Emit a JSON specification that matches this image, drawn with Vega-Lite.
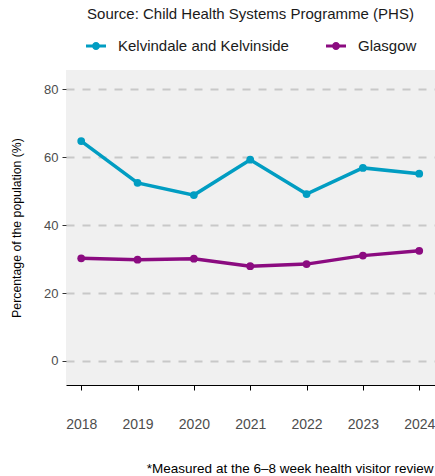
{
  "$schema": "https://vega.github.io/schema/vega-lite/v6.json",
  "width": 369,
  "height": 315,
  "autosize": {"type": "none"},
  "padding": {"left": 66, "top": 70, "right": 0, "bottom": 91},
  "background": "white",
  "config": {
    "font": "Liberation Sans",
    "view": {"fill": "#f0f0f0", "stroke": null}
  },
  "title": {
    "text": "Source: Child Health Systems Programme (PHS)",
    "anchor": "middle",
    "fontSize": 15,
    "fontWeight": "normal",
    "color": "#1a1a1a",
    "offset": 14
  },
  "data": {
    "values": [
      {"year": 2018, "area": "Kelvindale and Kelvinside", "pct": 64.7},
      {"year": 2019, "area": "Kelvindale and Kelvinside", "pct": 52.4},
      {"year": 2020, "area": "Kelvindale and Kelvinside", "pct": 48.8},
      {"year": 2021, "area": "Kelvindale and Kelvinside", "pct": 59.2},
      {"year": 2022, "area": "Kelvindale and Kelvinside", "pct": 49.1},
      {"year": 2023, "area": "Kelvindale and Kelvinside", "pct": 56.8},
      {"year": 2024, "area": "Kelvindale and Kelvinside", "pct": 55.1},
      {"year": 2018, "area": "Glasgow", "pct": 30.2},
      {"year": 2019, "area": "Glasgow", "pct": 29.8},
      {"year": 2020, "area": "Glasgow", "pct": 30.1},
      {"year": 2021, "area": "Glasgow", "pct": 27.9},
      {"year": 2022, "area": "Glasgow", "pct": 28.5},
      {"year": 2023, "area": "Glasgow", "pct": 31.0},
      {"year": 2024, "area": "Glasgow", "pct": 32.4}
    ]
  },
  "encoding": {
    "x": {
      "field": "year",
      "type": "quantitative",
      "scale": {"domain": [2017.73, 2024.28], "nice": false, "zero": false},
      "axis": {
        "values": [2018, 2019, 2020, 2021, 2022, 2023, 2024],
        "format": "d",
        "grid": false,
        "domainColor": "#000000",
        "domainWidth": 1.2,
        "tickColor": "#000000",
        "tickSize": 5,
        "labelFontSize": 14,
        "labelColor": "#4d4d4d",
        "labelPadding": 27,
        "title": "*Measured at the 6–8 week health visitor review",
        "titleAlign": "right",
        "titleX": 367,
        "titleY": 83,
        "titleBaseline": "middle",
        "titleFontSize": 13.5,
        "titleFontWeight": "normal",
        "titleColor": "#000000"
      }
    },
    "y": {
      "field": "pct",
      "type": "quantitative",
      "scale": {"domain": [-7.06, 85.6], "nice": false, "zero": false},
      "axis": {
        "values": [0, 20, 40, 60, 80],
        "domain": false,
        "tickColor": "#333333",
        "tickSize": 4,
        "labelFontSize": 13,
        "labelColor": "#4d4d4d",
        "labelPadding": 4,
        "grid": true,
        "gridColor": "#c8c8c8",
        "gridDash": [8, 8],
        "gridWidth": 1.8,
        "title": "Percentage of the population (%)",
        "titleFontSize": 12.3,
        "titleFontWeight": "normal",
        "titleColor": "#000000",
        "titlePadding": 20
      }
    },
    "color": {
      "field": "area",
      "type": "nominal",
      "scale": {
        "domain": ["Kelvindale and Kelvinside", "Glasgow"],
        "range": ["#019dc2", "#8b0b80"]
      },
      "legend": {
        "orient": "none",
        "legendX": 20,
        "legendY": -34,
        "direction": "horizontal",
        "title": null,
        "labelFontSize": 15,
        "labelLimit": 300,
        "labelColor": "#1a1a1a",
        "symbolType": "M-1,-0.15H1V0.15H-1Z M0.4,0 A0.4,0.4 0 1,1 -0.4,0 A0.4,0.4 0 1,1 0.4,0",
        "symbolSize": 400,
        "symbolStrokeWidth": 0,
        "labelOffset": 12,
        "columnPadding": 37
      }
    }
  },
  "layer": [
    {"mark": {"type": "line", "strokeWidth": 3.5}},
    {"mark": {"type": "point", "filled": true, "size": 60, "opacity": 1}}
  ]
}
